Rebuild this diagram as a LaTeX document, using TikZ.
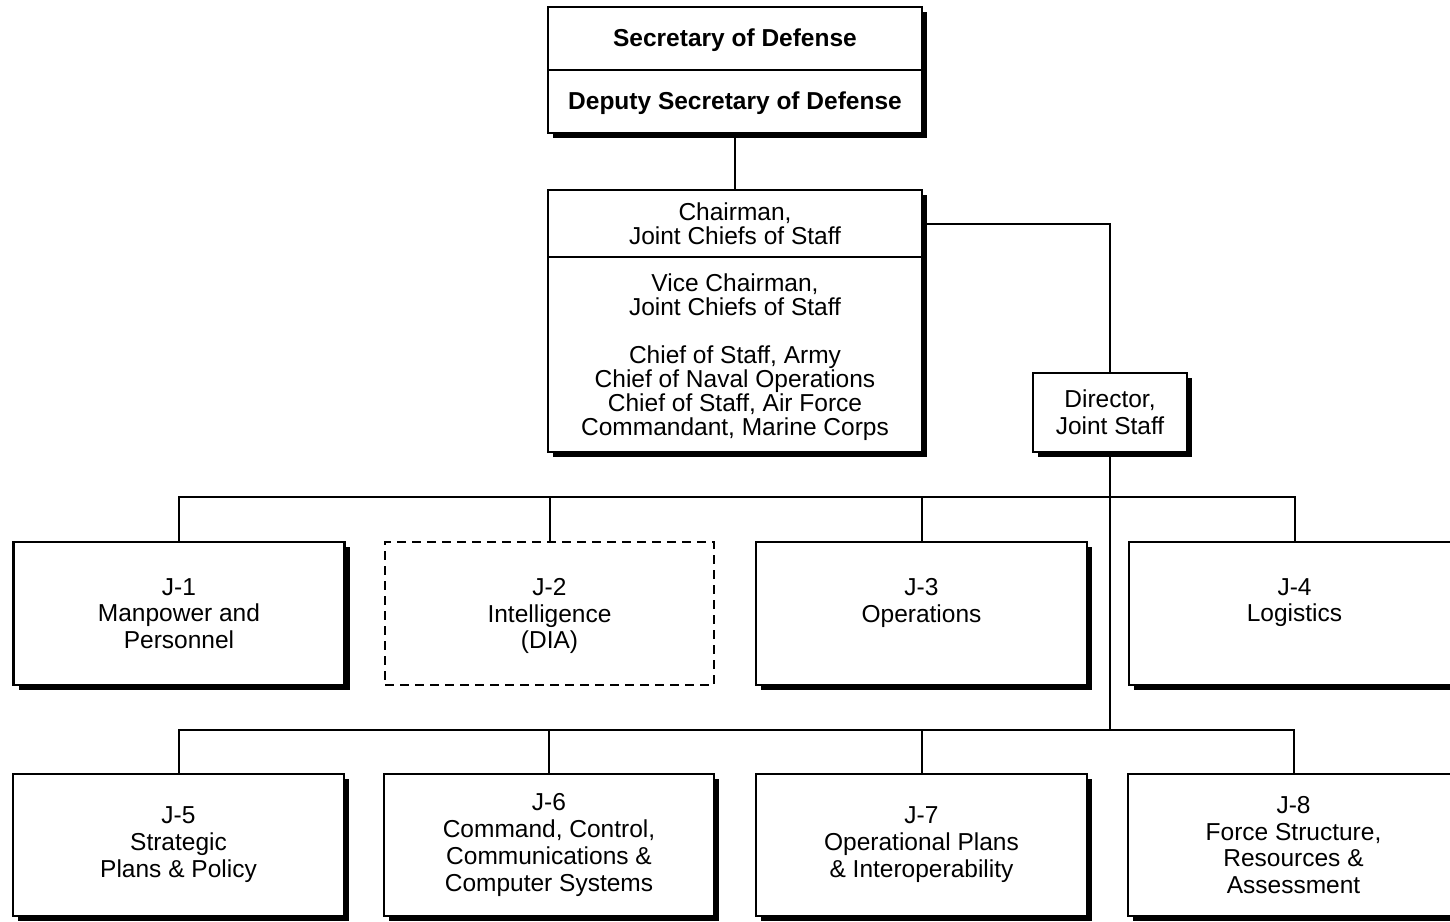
\documentclass[tikz,border=0pt]{standalone}
\usepackage{fontspec}
\setmainfont{Liberation Sans}
\usetikzlibrary{shadows}
\begin{document}
\begin{tikzpicture}[x=1pt,y=-1pt,
  box/.style={draw=black, line width=2.2pt, fill=white, inner sep=0pt, align=center,
    font=\fontsize{24.5}{24}\selectfont},
  shd/.style={drop shadow={shadow xshift=5pt, shadow yshift=-5pt, fill=black, opacity=1}},
  jbox/.style={box, shd, minimum width=331pt, minimum height=143pt,
    font=\fontsize{24.5}{26.6}\selectfont},
  topbox/.style={box, shd, minimum width=374pt, minimum height=63pt,
    text height=16pt, text depth=0pt, font=\bfseries\fontsize{24.5}{24}\selectfont},
  link/.style={draw=black, line width=2pt}
]
\path[use as bounding box] (0,0) rectangle (1450,921);
\clip (0,0) rectangle (1450,921);

% top
\node[topbox] (secdef) at (735,38.5) {Secretary of Defense};
\node[topbox] (depsec) at (735,101.5) {Deputy Secretary of Defense};

\node[box, shd, minimum width=374pt, minimum height=67pt] (cjcs) at (735,223.5) {Chairman,\\Joint Chiefs of Staff};
\node[box, shd, minimum width=374pt, minimum height=195pt] (jcs) at (735,354.5) {Vice Chairman,\\Joint Chiefs of Staff\\[24pt]Chief of Staff, Army\\Chief of Naval Operations\\Chief of Staff, Air Force\\\smash{Commandant, Marine Corps}};

\node[box, shd, minimum width=154pt, minimum height=79pt, font=\fontsize{24.5}{27}\selectfont] (dir) at (1110,412.5) {Director,\\Joint Staff};

% row 1
\node[jbox] (j1) at (179,613.5) {J-1\\Manpower and\\Personnel};
\node[box, dashed, dash pattern=on 9pt off 6pt, line width=1.8pt, minimum width=329pt, minimum height=143pt, font=\fontsize{24.5}{26.6}\selectfont] (j2) at (549.5,613.5) {J-2\\Intelligence\\\smash{(DIA)}};
\node[jbox] (j3) at (921.5,613.5) {J-3\\Operations\\\mbox{}};
\node[jbox] (j4) at (1294.5,613.5) {J-4\\Logistics\\\mbox{}};

% row 2
\node[jbox, minimum height=142pt, font=\fontsize{24.5}{27}\selectfont] (j5) at (178.5,845) {J-5\\Strategic\\Plans \& Policy};
\node[jbox, minimum height=142pt, minimum width=330pt, font=\fontsize{24.5}{26.8}\selectfont] (j6) at (549,845) {J-6\\Command, Control,\\Communications \&\\Computer Systems};
\node[jbox, minimum height=142pt, font=\fontsize{24.5}{27}\selectfont] (j7) at (921.5,845) {J-7\\Operational Plans\\\& Interoperability};
\node[jbox, minimum height=142pt] (j8) at (1293.5,845) {J-8\\Force Structure,\\Resources \&\\Assessment};

% connectors
\coordinate (bus1) at (1110,497);
\coordinate (bus2) at (1110,730);
\draw[link] (depsec.south) -- (cjcs.north);
\draw[link] (cjcs.east) -| (dir.north);
\draw[link] (dir.south) -- (bus2);
\draw[link] (j1.north) |- (bus1) -| (j4.north);
\draw[link] (j2.north) -- (j2.north |- bus1);
\draw[link] (j3.north) -- (j3.north |- bus1);
\draw[link] (j5.north) |- (bus2) -| (j8.north);
\draw[link] (j6.north) -- (j6.north |- bus2);
\draw[link] (j7.north) -- (j7.north |- bus2);
\end{tikzpicture}
\end{document}
